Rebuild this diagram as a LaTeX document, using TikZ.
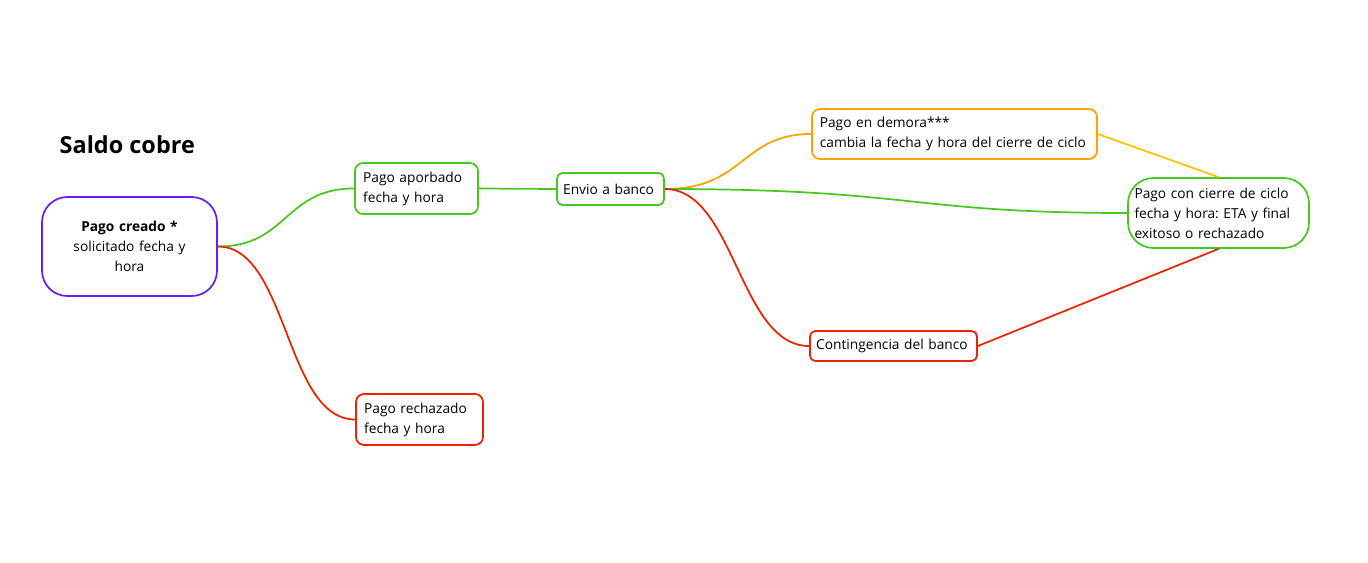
\documentclass[tikz,border=0pt]{standalone}
\usepackage{fontspec}
\setmainfont{Open Sans}
\frenchspacing
\definecolor{cpurple}{HTML}{6A1CF6}
\definecolor{cgreen}{HTML}{46C81E}
\definecolor{cred}{HTML}{EE2200}
\definecolor{corange}{HTML}{FFA200}
\definecolor{cyellow}{HTML}{FFC000}
\begin{document}
\begin{tikzpicture}[x=0.75pt,y=-0.75pt,
  box/.style={draw, line width=1.3pt, fill=white, font=\fontsize{10.3}{15}\selectfont, inner sep=0pt, align=left},
  conn/.style={line width=1.3pt}]
\useasboundingbox (0,0) rectangle (1368,563);
\node[anchor=west, font=\fontsize{17.6}{20}\selectfont\bfseries] (title) at (55,145) {Saldo cobre};
\node[box, draw=cpurple, rounded corners=19pt, minimum width=131.25pt, minimum height=74.25pt, text width=110pt, align=center] (creado) at (129.5,246.5) {\textbf{Pago creado *}\\solicitado fecha y\\hora};
\node[box, draw=cgreen, rounded corners=6pt, minimum width=92.25pt, minimum height=38.25pt, text width=80pt] (apor) at (416.5,188.5) {Pago aporbado\\fecha y hora};
\node[box, draw=cred, rounded corners=6pt, minimum width=95.25pt, minimum height=38.25pt, text width=83pt] (rech) at (419.5,419.5) {Pago rechazado\\fecha y hora};
\node[box, draw=cgreen, rounded corners=4pt, minimum width=80.25pt, minimum height=24pt, text width=71pt] (envio) at (610.5,189) {Envio a banco};
\node[box, draw=corange, rounded corners=6pt, minimum width=213.75pt, minimum height=37.5pt, text width=202pt] (demora) at (954.5,134) {Pago en demora***\\cambia la fecha y hora del cierre de ciclo};
\node[box, draw=cgreen, rounded corners=19pt, minimum width=135.75pt, minimum height=52.5pt, text width=126pt] (cierre) at (1218.5,213) {Pago con cierre de ciclo\\fecha y hora: ETA y final\\exitoso o rechazado};
\node[box, draw=cred, rounded corners=4pt, minimum width=125.25pt, minimum height=22.5pt, text width=116pt] (cont) at (893.5,346) {Contingencia del banco};
\draw[conn, cgreen] (creado.east) .. controls +(70,0) and +(-70,0) .. (apor.west);
\draw[conn, cred] (creado.east) .. controls +(70,0) and +(-70,0) .. (rech.west);
\draw[conn, cgreen] (apor.east) -- (envio.west);
\draw[conn, corange] (envio.east) .. controls +(80,0) and +(-70,0) .. (demora.west);
\draw[conn, cgreen] (envio.east) .. controls +(250,0) and +(-220,0) .. (cierre.west);
\draw[conn, cred] (envio.east) .. controls +(70,0) and +(-70,0) .. (cont.west);
\draw[conn, cyellow] (demora.east) -- (cierre.north);
\draw[conn, cred] (cont.east) -- (cierre.south);
\end{tikzpicture}
\end{document}
